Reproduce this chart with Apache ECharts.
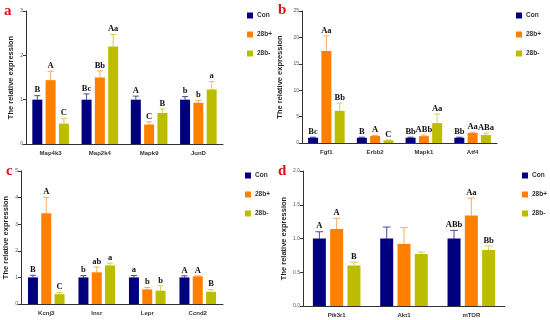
<!DOCTYPE html>
<html><head><meta charset="utf-8">
<script src="https://cdn.jsdelivr.net/npm/echarts@6/dist/echarts.min.js"></script>
<style>html,body{margin:0;padding:0;background:#fff}#c{width:550px;height:320px}</style>
</head><body><div id="c"></div>
<script>
// ---- Data ----
const seriesNames = ['Con', '28b+', '28b-'];

// panel a
const catsA = ['Map4k3', 'Map2k4', 'Mapk9', 'JunD'];
const conA = [1.0, 1.0, 1.0, 1.0];
const plusA = [1.44, 1.5, 0.44, 0.93];
const minusA = [0.46, 2.2, 0.7, 1.23];
const conErrA = [0.09, 0.13, 0.08, 0.07];
const plusErrA = [0.2, 0.15, 0.06, 0.05];
const minusErrA = [0.12, 0.27, 0.09, 0.18];
const conLetA = ['B', 'Bc', 'A', 'b'];
const plusLetA = ['A', 'Bb', 'C', 'b'];
const minusLetA = ['C', 'Aa', 'B', 'a'];
const ticksA = [0, 3, 1];

// panel b
const catsB = ['Fgf1', 'Erbb2', 'Mapk1', 'Atf4'];
const conB = [1.0, 1.0, 1.0, 1.0];
const plusB = [17.44, 1.32, 1.3, 1.9];
const minusB = [6.1, 0.5, 3.78, 1.5];
const conErrB = [0.1, 0.1, 0.1, 0.1];
const plusErrB = [2.85, 0.1, 0.2, 0.15];
const minusErrB = [1.45, 0.08, 1.7, 0.35];
const conLetB = ['Bc', 'B', 'Bb', 'Bb'];
const plusLetB = ['Aa', 'A', 'ABb', 'Aa'];
const minusLetB = ['Bb', 'C', 'Aa', 'ABa'];
const ticksB = [0, 25, 5];

// panel c
const catsC = ['Kcnj3', 'Insr', 'Lepr', 'Ccnd2'];
const conC = [1.0, 1.0, 1.0, 1.0];
const plusC = [3.41, 1.19, 0.55, 1.04];
const minusC = [0.37, 1.45, 0.5, 0.46];
const conErrC = [0.08, 0.07, 0.07, 0.06];
const plusErrC = [0.6, 0.2, 0.07, 0.02];
const minusErrC = [0.06, 0.08, 0.18, 0.08];
const conLetC = ['B', 'b', 'a', 'A'];
const plusLetC = ['A', 'ab', 'b', 'A'];
const minusLetC = ['C', 'a', 'b', 'B'];
const ticksC = [0, 5, 1];

// panel d
const catsD = ['Pik3r1', 'Akt1', 'mTOR'];
const conD = [1.0, 1.0, 1.0];
const plusD = [1.14, 0.92, 1.34];
const minusD = [0.6, 0.77, 0.83];
const conErrD = [0.1, 0.17, 0.12];
const plusErrD = [0.16, 0.24, 0.26];
const minusErrD = [0.05, 0.03, 0.06];
const conLetD = ['A', '', 'ABb'];
const plusLetD = ['A', '', 'Aa'];
const minusLetD = ['B', '', 'Bb'];
const ticksD = [0, 2, 0.5];

const panelLetters = ['a', 'b', 'c', 'd'];

// ---- Styles ----
const colors = ['#00007f', '#ff8000', '#bdbd00'];
const errColors = ['#4a4aa0', '#ffaa60', '#d2d250'];

const panels = [
  {cats: catsA, vals: [conA, plusA, minusA], errs: [conErrA, plusErrA, minusErrA], lets: [conLetA, plusLetA, minusLetA], ticks: ticksA, dec: 0,
   grid: {left: 26, top: 11, width: 197, height: 133}, bw: 10, legend: {left: 247, top: 12}, nameGap: 11, tag: [4, 4]},
  {cats: catsB, vals: [conB, plusB, minusB], errs: [conErrB, plusErrB, minusErrB], lets: [conLetB, plusLetB, minusLetB], ticks: ticksB, dec: 0,
   grid: {left: 302, top: 11, width: 195, height: 132}, bw: 10, legend: {left: 516, top: 12}, nameGap: 18, tag: [278, 3]},
  {cats: catsC, vals: [conC, plusC, minusC], errs: [conErrC, plusErrC, minusErrC], lets: [conLetC, plusLetC, minusLetC], ticks: ticksC, dec: 0,
   grid: {left: 21, top: 171, width: 202, height: 133}, bw: 10, legend: {left: 245, top: 172}, nameGap: 11, tag: [6, 164]},
  {cats: catsD, vals: [conD, plusD, minusD], errs: [conErrD, plusErrD, minusErrD], lets: [conLetD, plusLetD, minusLetD], ticks: ticksD, dec: 1,
   grid: {left: 303, top: 171, width: 202, height: 135}, bw: 13, legend: {left: 522, top: 172}, nameGap: 15, tag: [278, 164]}
];

const grids = [], xAxes = [], yAxes = [], series = [], legends = [], graphics = [];
const gapRatio = 0.33;

panels.forEach((p, pi) => {
  grids.push(Object.assign({containLabel: false}, p.grid));
  xAxes.push({
    type: 'category', gridIndex: pi, data: p.cats,
    axisLine: {lineStyle: {color: '#333', width: 1}},
    axisTick: {alignWithLabel: true, length: 3, lineStyle: {color: '#333'}},
    axisLabel: {fontSize: 6, fontWeight: 'bold', color: '#333', margin: 6, fontFamily: 'Liberation Sans'}
  });
  yAxes.push({
    type: 'value', gridIndex: pi, min: p.ticks[0], max: p.ticks[1], interval: p.ticks[2],
    name: 'The relative expression', nameLocation: 'middle', nameGap: p.nameGap, nameMoveOverlap: false,
    nameTextStyle: {fontSize: 7.5, fontWeight: 'bold', color: '#222', fontFamily: 'Liberation Sans'},
    axisLine: {show: true, lineStyle: {color: '#333', width: 1}},
    axisTick: {show: true, length: 3, lineStyle: {color: '#333'}},
    splitLine: {show: false},
    axisLabel: {fontSize: 5, color: '#555', margin: 3, fontFamily: 'Liberation Sans',
      formatter: v => v.toFixed(p.dec)}
  });
  p.vals.forEach((vals, si) => {
    series.push({
      type: 'bar', name: seriesNames[si], xAxisIndex: pi, yAxisIndex: pi,
      data: vals, barWidth: p.bw, barGap: (gapRatio * 100) + '%',
      itemStyle: {color: colors[si]}, silent: true, animation: false
    });
  });
  p.vals.forEach((vals, si) => {
    const errs = p.errs[si], lets = p.lets[si];
    series.push({
      type: 'custom', xAxisIndex: pi, yAxisIndex: pi, animation: false, silent: true,
      data: vals.map((v, i) => [i, v, v + errs[i]]),
      renderItem: function (params, api) {
        const i = api.value(0);
        const off = (si - 1) * p.bw * (1 + gapRatio);
        const top = api.coord([i, api.value(2)]);
        const base = api.coord([i, api.value(1)]);
        const x = top[0] + off;
        const capHalf = p.bw * 0.3;
        const children = [
          {type: 'line', shape: {x1: x, y1: base[1], x2: x, y2: top[1]}, style: {stroke: errColors[si], lineWidth: 1}},
          {type: 'line', shape: {x1: x - capHalf, y1: top[1], x2: x + capHalf, y2: top[1]}, style: {stroke: errColors[si], lineWidth: 1}}
        ];
        const t = lets[params.dataIndex];
        if (t) {
          children.push({type: 'text', x: x, y: top[1] - 1, style: {text: t, fill: '#111', fontSize: 8.5, fontWeight: 'bold',
            fontFamily: 'Liberation Serif', align: 'center', verticalAlign: 'bottom'}});
        }
        return {type: 'group', children: children};
      }
    });
  });
  legends.push({
    orient: 'vertical', left: p.legend.left, top: p.legend.top, padding: 0, itemGap: 12,
    icon: 'rect', itemWidth: 6, itemHeight: 6, data: seriesNames, selectedMode: false,
    textStyle: {fontSize: 6.5, fontWeight: 'bold', color: '#333', fontFamily: 'Liberation Sans', padding: [0, 0, 0, -1]}
  });
  graphics.push({type: 'text', left: p.tag[0], top: p.tag[1], style: {text: panelLetters[pi], fill: '#e0101a',
    fontSize: 15, fontWeight: 'bold', fontFamily: 'Liberation Serif'}});
});

const chart = echarts.init(document.getElementById('c'), null, {renderer: 'canvas'});
chart.setOption({
  animation: false,
  grid: grids, xAxis: xAxes, yAxis: yAxes, series: series, legend: legends, graphic: graphics
});
</script></body></html>
